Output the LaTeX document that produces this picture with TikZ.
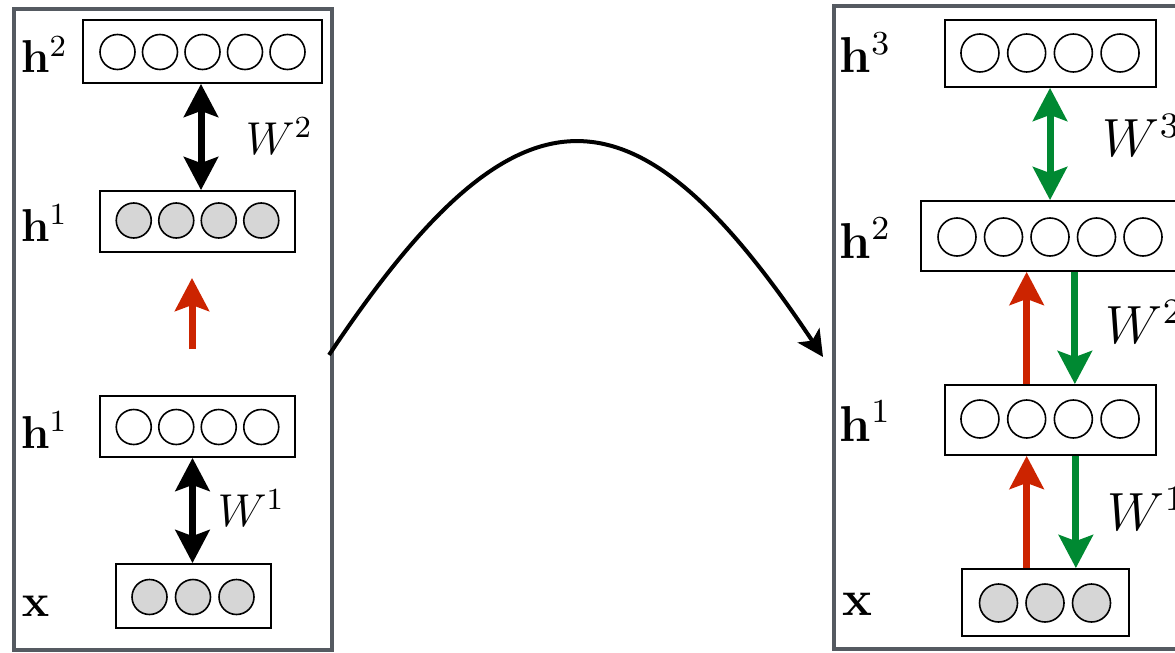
\documentclass[tikz,border=0pt]{standalone}
\usetikzlibrary{arrows.meta,calc}
\definecolor{framegray}{RGB}{85,90,97}
\definecolor{arrred}{RGB}{204,36,0}
\definecolor{arrgreen}{RGB}{0,137,50}
\definecolor{unitgray}{RGB}{214,214,214}
\tikzset{
  frame/.style={draw=framegray, line width=1pt},
  layer/.style={rectangle, draw=black, line width=0.45pt, fill=white, inner sep=0pt},
  unitL/.style={circle, draw=black, line width=0.4pt, inner sep=0pt, minimum size=8.75pt, fill=white},
  unitR/.style={circle, draw=black, line width=0.4pt, inner sep=0pt, minimum size=9.5pt, fill=white},
  obs/.style={fill=unitgray},
  lblL/.style={anchor=base west, inner sep=0pt, font=\large, scale=0.96},
  lblR/.style={anchor=base west, inner sep=0pt, font=\large, scale=1.05},
  wR/.style={anchor=base west, inner sep=0pt, font=\large, scale=1.12},
  bigtip/.tip={Stealth[length=8.25pt,width=8.5pt,inset=1.5pt]},
  dbl/.style={line width=1.75pt, bigtip-bigtip},
  upred/.style={draw=arrred, line width=1.75pt, -{Stealth[length=8.25pt,width=8.5pt,inset=1.5pt,fill=arrred]}},
  dngreen/.style={draw=arrgreen, line width=1.75pt, -{Stealth[length=8.25pt,width=8.5pt,inset=1.5pt,fill=arrgreen]}},
  dblgreen/.style={draw=arrgreen, line width=1.75pt, {Stealth[length=8.25pt,width=8.5pt,inset=1.5pt,fill=arrgreen]}-{Stealth[length=8.25pt,width=8.5pt,inset=1.5pt,fill=arrgreen]}},
  curvearrow/.style={line width=1pt, -{Stealth[length=6.5pt,width=6.5pt,inset=1.6pt]}}
}
\begin{document}
\begin{tikzpicture}[x=0.25pt,y=-0.25pt]
\useasboundingbox (0,0) rectangle (1175,652);
\clip (0,0) rectangle (1175,652);
\fill[white] (0,0) rectangle (1175,652);

% frames
\draw[frame] (13.5,9.5) rectangle (331.5,650);
\draw[frame] (834,6) rectangle (1230,649);

% curve
\coordinate (cs) at (329,355);
\coordinate (ce) at (823,357);
\draw[curvearrow] (cs) .. controls (518,71) and (634,73) .. (ce);

% ---------- left panel ----------
\node[layer, minimum width=59.75pt, minimum height=15.75pt] (h2L) at (202.5,51.5) {};
\foreach \i in {1,...,5} \node[unitL] (h2L-\i) at ({202.5+(\i-3)*42.5},52) {};
\node[layer, minimum width=48.75pt, minimum height=15.25pt] (h1L) at (197.5,221.5) {};
\foreach \i in {1,...,4} \node[unitL, obs] (h1L-\i) at ({197.5+(\i-2.5)*42.5},220.5) {};
\node[layer, minimum width=48.75pt, minimum height=15.25pt] (h1Lb) at (197.5,426.5) {};
\foreach \i in {1,...,4} \node[unitL] (h1Lb-\i) at ({197.5+(\i-2.5)*42.5},427) {};
\node[layer, minimum width=38.75pt, minimum height=16pt] (xL) at (193.5,596) {};
\foreach \i in {1,...,3} \node[unitL, obs] (xL-\i) at ({193+(\i-2)*43.5},597) {};

\node[lblL] (lh2L) at (20,73) {$\mathbf{h}^2$};
\node[lblL] (lh1L) at (20,241) {$\mathbf{h}^1$};
\node[lblL] (lh1Lb) at (20,448) {$\mathbf{h}^1$};
\node[lblL] (lxL) at (21,616) {$\mathbf{x}$};
\node[lblL] (w2L) at (245,154) {$W^2$};
\node[lblL] (w1L) at (217,526) {$W^1$};

\draw[dbl] ($(h2L.south)+(-1.5,0)$) -- ($(h2L.south |- h1L.north)+(-1.5,0)$);
\draw[dbl] ($(h1Lb.south)+(-5,0)$) -- ($(h1Lb.south |- xL.north)+(-5,0)$);
\coordinate (rs) at (192,349);
\coordinate (re) at (192,278);
\draw[upred] (rs) -- (re);

% ---------- right panel ----------
\node[layer, minimum width=52.75pt, minimum height=16.75pt] (h3R) at (1050.5,53.5) {};
\foreach \i in {1,...,4} \node[unitR] (h3R-\i) at ({1050+(\i-2.5)*46.7},53) {};
\node[layer, minimum width=64.5pt, minimum height=17.5pt] (h2R) at (1050,236) {};
\foreach \i in {1,...,5} \node[unitR] (h2R-\i) at ({1050+(\i-3)*46.5},237) {};
\node[layer, minimum width=52.75pt, minimum height=17.5pt] (h1R) at (1050.5,420) {};
\foreach \i in {1,...,4} \node[unitR] (h1R-\i) at ({1050+(\i-2.5)*46.7},419) {};
\node[layer, minimum width=41.75pt, minimum height=16.75pt] (xR) at (1045.5,602.5) {};
\foreach \i in {1,...,3} \node[unitR, obs] (xR-\i) at ({1045+(\i-2)*46.5},603) {};

\node[lblR] (lh3R) at (839,73) {$\mathbf{h}^3$};
\node[lblR] (lh2R) at (839,258) {$\mathbf{h}^2$};
\node[lblR] (lh1R) at (839,441) {$\mathbf{h}^1$};
\node[lblR] (lxR) at (842,615) {$\mathbf{x}$};
\node[wR] (w3R) at (1102,157) {$W^3$};
\node[wR] (w2R) at (1105,343) {$W^2$};
\node[wR] (w1R) at (1107,530) {$W^1$};

\draw[dblgreen] (h2R-3 |- h3R.south) -- (h2R-3 |- h2R.north);
\draw[upred] (h1R-2 |- h1R.north) -- (h1R-2 |- h2R.south);
\draw[dngreen] ($(h1R-3 |- h2R.south)+(1.5,0)$) -- ($(h1R-3 |- h1R.north)+(1.5,0)$);
\draw[upred] (h1R-2 |- xR.north) -- (h1R-2 |- h1R.south);
\draw[dngreen] ($(h1R-3 |- h1R.south)+(2.5,0)$) -- ($(h1R-3 |- xR.north)+(2.5,0)$);
\end{tikzpicture}
\end{document}
